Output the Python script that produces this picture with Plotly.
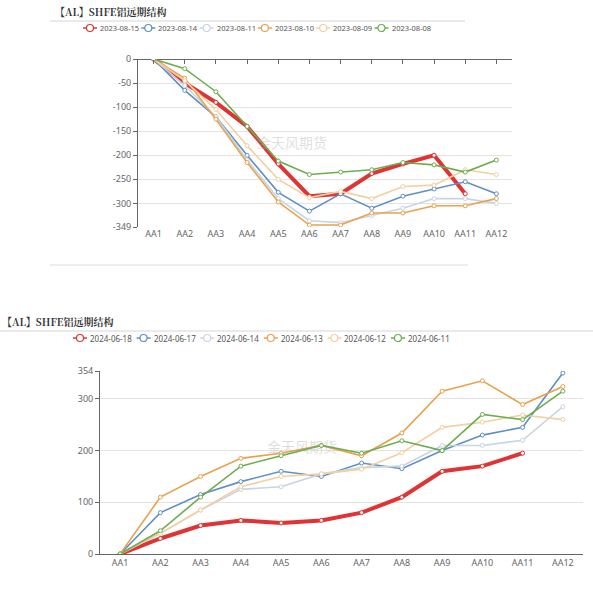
import plotly.graph_objects as go

contracts = ["AA1", "AA2", "AA3", "AA4", "AA5", "AA6", "AA7", "AA8", "AA9", "AA10", "AA11", "AA12"]

# Top chart (2023)
top_dates = ["2023-08-15", "2023-08-14", "2023-08-11", "2023-08-10", "2023-08-09", "2023-08-08"]
top_0815 = [0, -50, -90, -140, -218, -285, -280, -238, -218, -200, -280, None]
top_0814 = [0, -65, -120, -200, -277, -316, -280, -310, -285, -270, -255, -280]
top_0811 = [0, -55, -120, -210, -290, -336, -340, -325, -310, -290, -290, -300]
top_0810 = [0, -40, -125, -215, -297, -345, -345, -320, -320, -305, -305, -290]
top_0809 = [0, -45, -105, -180, -250, -288, -275, -290, -265, -262, -230, -240]
top_0808 = [0, -20, -68, -140, -212, -240, -235, -230, -215, -220, -235, -210]
top_ticks = [0, -50, -100, -150, -200, -250, -300, -349]

# Bottom chart (2024)
bot_dates = ["2024-06-18", "2024-06-17", "2024-06-14", "2024-06-13", "2024-06-12", "2024-06-11"]
bot_0618 = [0, 30, 55, 65, 60, 65, 80, 110, 160, 170, 195, None]
bot_0617 = [0, 80, 115, 140, 160, 150, 176, 165, 200, 230, 245, 350]
bot_0614 = [0, 40, 85, 125, 130, 155, 167, 170, 210, 210, 220, 285]
bot_0613 = [0, 110, 150, 185, 195, 210, 190, 234, 315, 335, 289, 324]
bot_0612 = [0, 40, 85, 130, 150, 155, 164, 196, 245, 255, 269, 260]
bot_0611 = [0, 45, 110, 170, 190, 210, 195, 219, 200, 270, 260, 315]
bot_ticks = [0, 100, 200, 300, 354]

colors = ["#e03434", "#5f8fc4", "#c9d4e3", "#e9a24c", "#f4cfa2", "#6cae4d"]
widths = [4, 1.6, 1.6, 1.6, 1.6, 1.6]

W = H = 593
def px_y(p):
    return 1 - p / H
def px_x(p):
    return p / W

fig = go.Figure()

top_series = [top_0815, top_0814, top_0811, top_0810, top_0809, top_0808]
bot_series = [bot_0618, bot_0617, bot_0614, bot_0613, bot_0612, bot_0611]

for name, vals, c, w in zip(top_dates, top_series, colors, widths):
    fig.add_trace(go.Scatter(
        x=contracts, y=vals, name=name, mode="lines+markers",
        line=dict(color=c, width=w),
        marker=dict(symbol="circle", size=4, color="white", line=dict(color=c, width=1)),
        xaxis="x", yaxis="y", showlegend=False))

for name, vals, c, w in zip(bot_dates, bot_series, colors, widths):
    fig.add_trace(go.Scatter(
        x=contracts, y=vals, name=name, mode="lines+markers",
        line=dict(color=c, width=w),
        marker=dict(symbol="circle", size=4, color="white", line=dict(color=c, width=1)),
        xaxis="x2", yaxis="y2", showlegend=False))

# dummy trace so xaxis3 (top tick marks) renders
fig.add_trace(go.Scatter(x=contracts, y=[None] * len(contracts), xaxis="x3", yaxis="y",
                         showlegend=False, hoverinfo="skip"))

axis_font = dict(family="Noto Sans, DejaVu Sans, sans-serif", size=9, color="#666")

fig.update_layout(
    width=W, height=H,
    margin=dict(l=0, r=0, t=0, b=0, autoexpand=False),
    paper_bgcolor="white", plot_bgcolor="white",
    font=dict(family="Noto Sans CJK SC, Noto Sans, sans-serif"),
    showlegend=False,
    xaxis=dict(domain=[px_x(138), px_x(512)], anchor="y", type="category",
               categoryorder="array", categoryarray=contracts, range=[-0.5, 11.5],
               showgrid=False, showline=False, ticks="", tickfont=axis_font,
               zeroline=False, automargin=False),
    yaxis=dict(domain=[px_y(227), px_y(59)], anchor="x", range=[-349, 0],
               tickvals=top_ticks, ticktext=[str(t) for t in top_ticks],
               showgrid=True, gridcolor="#e3e3e3", gridwidth=1,
               showline=True, linecolor="#666", linewidth=1, ticks="outside",
               ticklen=4, tickcolor="#666", tickfont=axis_font,
               zeroline=True, zerolinecolor="#666", zerolinewidth=1, automargin=False),
    xaxis3=dict(domain=[px_x(138), px_x(512)], anchor="free", overlaying="x",
                position=px_y(59), side="top", type="category",
                categoryorder="array", categoryarray=contracts, range=[-0.5, 11.5],
                showticklabels=False, ticks="inside", ticklen=4, tickcolor="#666",
                showgrid=False, showline=False, zeroline=False,
                tickvals=contracts, automargin=False),
    xaxis2=dict(domain=[px_x(100), px_x(583)], anchor="y2", type="category",
                categoryorder="array", categoryarray=contracts, range=[-0.5, 11.5],
                showgrid=False, showline=True, linecolor="#666", linewidth=1,
                ticks="", tickfont=axis_font, zeroline=False, automargin=False),
    yaxis2=dict(domain=[px_y(554), px_y(371)], anchor="x2", range=[0, 354],
                tickvals=bot_ticks, ticktext=[str(t) for t in bot_ticks],
                showgrid=True, gridcolor="#e3e3e3", gridwidth=1,
                showline=True, linecolor="#666", linewidth=1, ticks="outside",
                ticklen=4, tickcolor="#666", tickfont=axis_font, zeroline=False,
                automargin=False),
)

# custom legends (symbol "-o-" + date text)
def add_legend(names, start_x, step, y, fsize):
    legend_font = dict(family="Noto Sans, DejaVu Sans, sans-serif", size=fsize, color="#555")
    for i, (name, c) in enumerate(zip(names, colors)):
        sx = start_x + i * step
        fig.add_shape(type="line", xref="paper", yref="paper",
                      x0=px_x(sx), x1=px_x(sx + 14), y0=px_y(y), y1=px_y(y),
                      line=dict(color=c, width=1.5))
        fig.add_shape(type="circle", xref="paper", yref="paper",
                      x0=px_x(sx + 3.5), x1=px_x(sx + 10.5), y0=px_y(y + 3.5), y1=px_y(y - 3.5),
                      fillcolor="white", line=dict(color=c, width=1.2))
        fig.add_annotation(text=name, x=px_x(sx + 15), y=px_y(y), xref="paper", yref="paper",
                           xanchor="left", yanchor="middle", showarrow=False, font=legend_font)

add_legend(top_dates, 83, 58.3, 28, 7.5)
add_legend(bot_dates, 73, 63.6, 338, 8)

title_font = dict(family="Noto Serif CJK SC, Noto Sans CJK SC, sans-serif", size=10, color="#333")
fig.add_annotation(text="<b>【AL】SHFE铝远期结构</b>", x=px_x(53), y=px_y(12), xref="paper", yref="paper",
                   xanchor="left", yanchor="middle", showarrow=False, font=title_font)
fig.add_annotation(text="<b>【AL】SHFE铝远期结构</b>", x=px_x(0), y=px_y(321), xref="paper", yref="paper",
                   xanchor="left", yanchor="middle", showarrow=False, font=title_font)

# watermarks
wm_font = dict(family="Noto Sans CJK SC, sans-serif", size=14, color="rgba(160,160,160,0.35)")
fig.add_annotation(text="金天风期货", x=px_x(292), y=px_y(130), xref="paper", yref="paper",
                   showarrow=False, font=wm_font)
fig.add_annotation(text="金天风期货", x=px_x(302), y=px_y(458), xref="paper", yref="paper",
                   showarrow=False, font=wm_font)

# separator lines
fig.add_shape(type="line", xref="paper", yref="paper", x0=px_x(50), x1=px_x(465),
              y0=px_y(21), y1=px_y(21), line=dict(color="#d5d5d5", width=1))
fig.add_shape(type="line", xref="paper", yref="paper", x0=px_x(50), x1=px_x(468),
              y0=px_y(265), y1=px_y(265), line=dict(color="#eeeeee", width=2))
fig.add_shape(type="line", xref="paper", yref="paper", x0=0, x1=1,
              y0=px_y(331), y1=px_y(331), line=dict(color="#d5d5d5", width=1))

fig.write_html("out.html", config={"displayModeBar": False},
               post_script="document.body.style.margin='0';document.body.style.padding='0';")
